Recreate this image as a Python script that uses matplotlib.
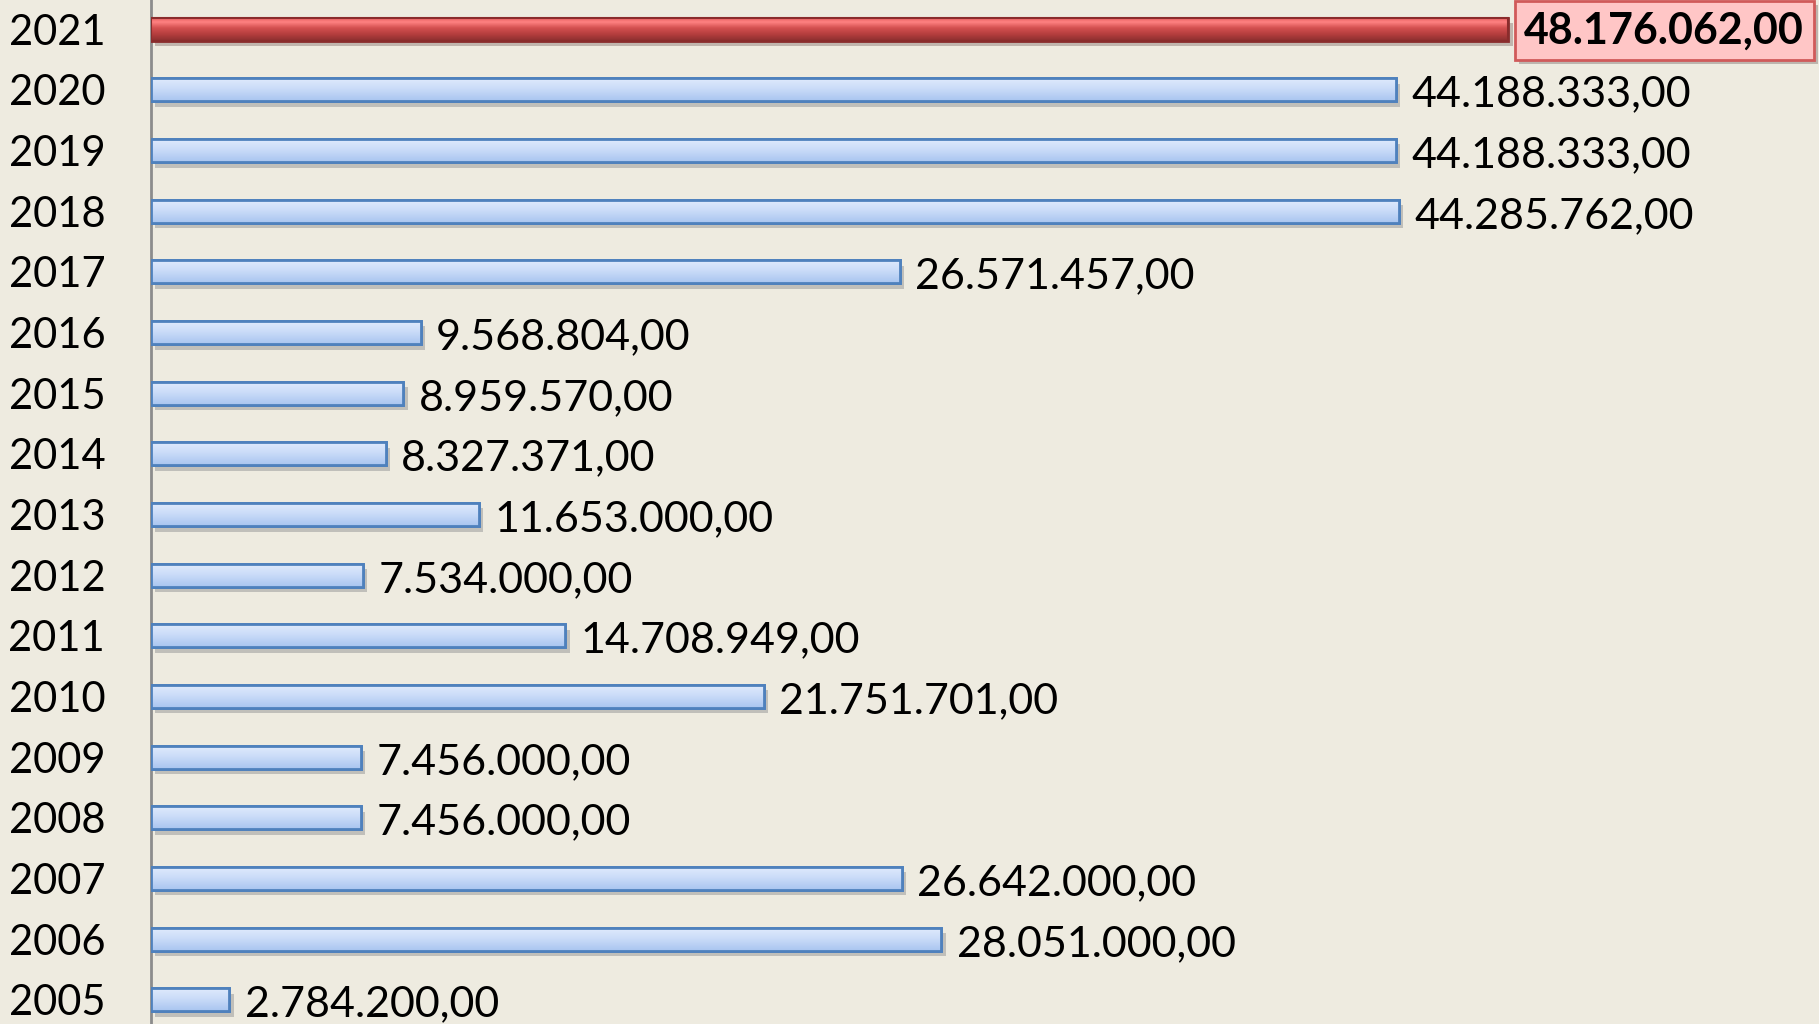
import matplotlib.pyplot as plt
import matplotlib.patheffects as pe
from matplotlib.colors import LinearSegmentedColormap
import numpy as np

years = ['2005', '2006', '2007', '2008', '2009', '2010', '2011', '2012', '2013',
         '2014', '2015', '2016', '2017', '2018', '2019', '2020', '2021']
values = [2784200.00, 28051000.00, 26642000.00, 7456000.00, 7456000.00,
          21751701.00, 14708949.00, 7534000.00, 11653000.00, 8327371.00,
          8959570.00, 9568804.00, 26571457.00, 44285762.00, 44188333.00,
          44188333.00, 48176062.00]
highlight = '2021'

bg = '#EEEBE0'
plt.rcParams['font.family'] = ['Lato', 'DejaVu Sans']

fig = plt.figure(figsize=(18.19, 10.24), dpi=100, facecolor=bg)
ax = fig.add_axes([0.083, 0.0, 0.917, 1.0], facecolor=bg)


def fmt(v):
    s = f"{v:,.2f}"
    return s.replace(',', 'X').replace('.', ',').replace('X', '.')


pos = np.arange(len(years))
colors = ['#B9D1F6' if y != highlight else '#C04848' for y in years]
edges = ['#4F81BD' if y != highlight else '#8A2C2C' for y in years]
bars = ax.barh(pos, values, height=0.38, color=colors, edgecolor=edges,
               linewidth=2, zorder=3)

red_cmap = LinearSegmentedColormap.from_list(
    'r', [(0, '#E05A5A'), (0.2, '#FF8282'), (0.45, '#D45050'),
          (0.75, '#B03C3C'), (1, '#8C3030')])
blue_cmap = LinearSegmentedColormap.from_list(
    'b', ['#E2ECFD', '#C9DBF8', '#A9C5F0'])
grad = np.linspace(0, 1, 64).reshape(-1, 1)
for bar, y in zip(bars, years):
    bar.set_path_effects([pe.SimplePatchShadow(offset=(3, -4), alpha=0.25),
                          pe.Normal()])
    x0, y0 = bar.get_x(), bar.get_y()
    w, h = bar.get_width(), bar.get_height()
    cmap = red_cmap if y == highlight else blue_cmap
    im = ax.imshow(grad, extent=(x0, x0 + w, y0 + h, y0), cmap=cmap,
                   aspect='auto', zorder=4, origin='lower')
    im.set_clip_path(bar)
    outline = plt.Rectangle((x0, y0), w, h, fill=False,
                            edgecolor=bar.get_edgecolor(),
                            linewidth=1.5 if y == highlight else 2, zorder=5)
    ax.add_patch(outline)

for p, v, y in zip(pos, values, years):
    if y == highlight:
        ax.annotate(fmt(v), xy=(v, p), xytext=(11.5, -1),
                    textcoords='offset points',
                    va='center', ha='left', fontsize=31, fontweight='bold',
                    color='black', zorder=6,
                    bbox=dict(boxstyle='square,pad=0.22', facecolor='#FFC6C6',
                              edgecolor='#D05A5A', linewidth=2,
                              path_effects=[pe.SimplePatchShadow(offset=(3, -3), alpha=0.3),
                                            pe.Normal()]))
    else:
        ax.annotate(fmt(v), xy=(v, p), xytext=(11, -3.5),
                    textcoords='offset points',
                    va='center', ha='left', fontsize=31, color='black', zorder=6)

ax.set_xlim(0, 59.2e6)
ax.set_ylim(-0.40, 16.48)
ax.set_yticks(pos)
ax.set_yticklabels(years, fontsize=30)
ax.tick_params(axis='y', length=0, pad=33)
ax.set_xticks([])
for s in ['top', 'right', 'bottom']:
    ax.spines[s].set_visible(False)
ax.spines['left'].set_color('#8C8C8C')
ax.spines['left'].set_linewidth(2)

plt.savefig('out.png', dpi=100, facecolor=bg)
